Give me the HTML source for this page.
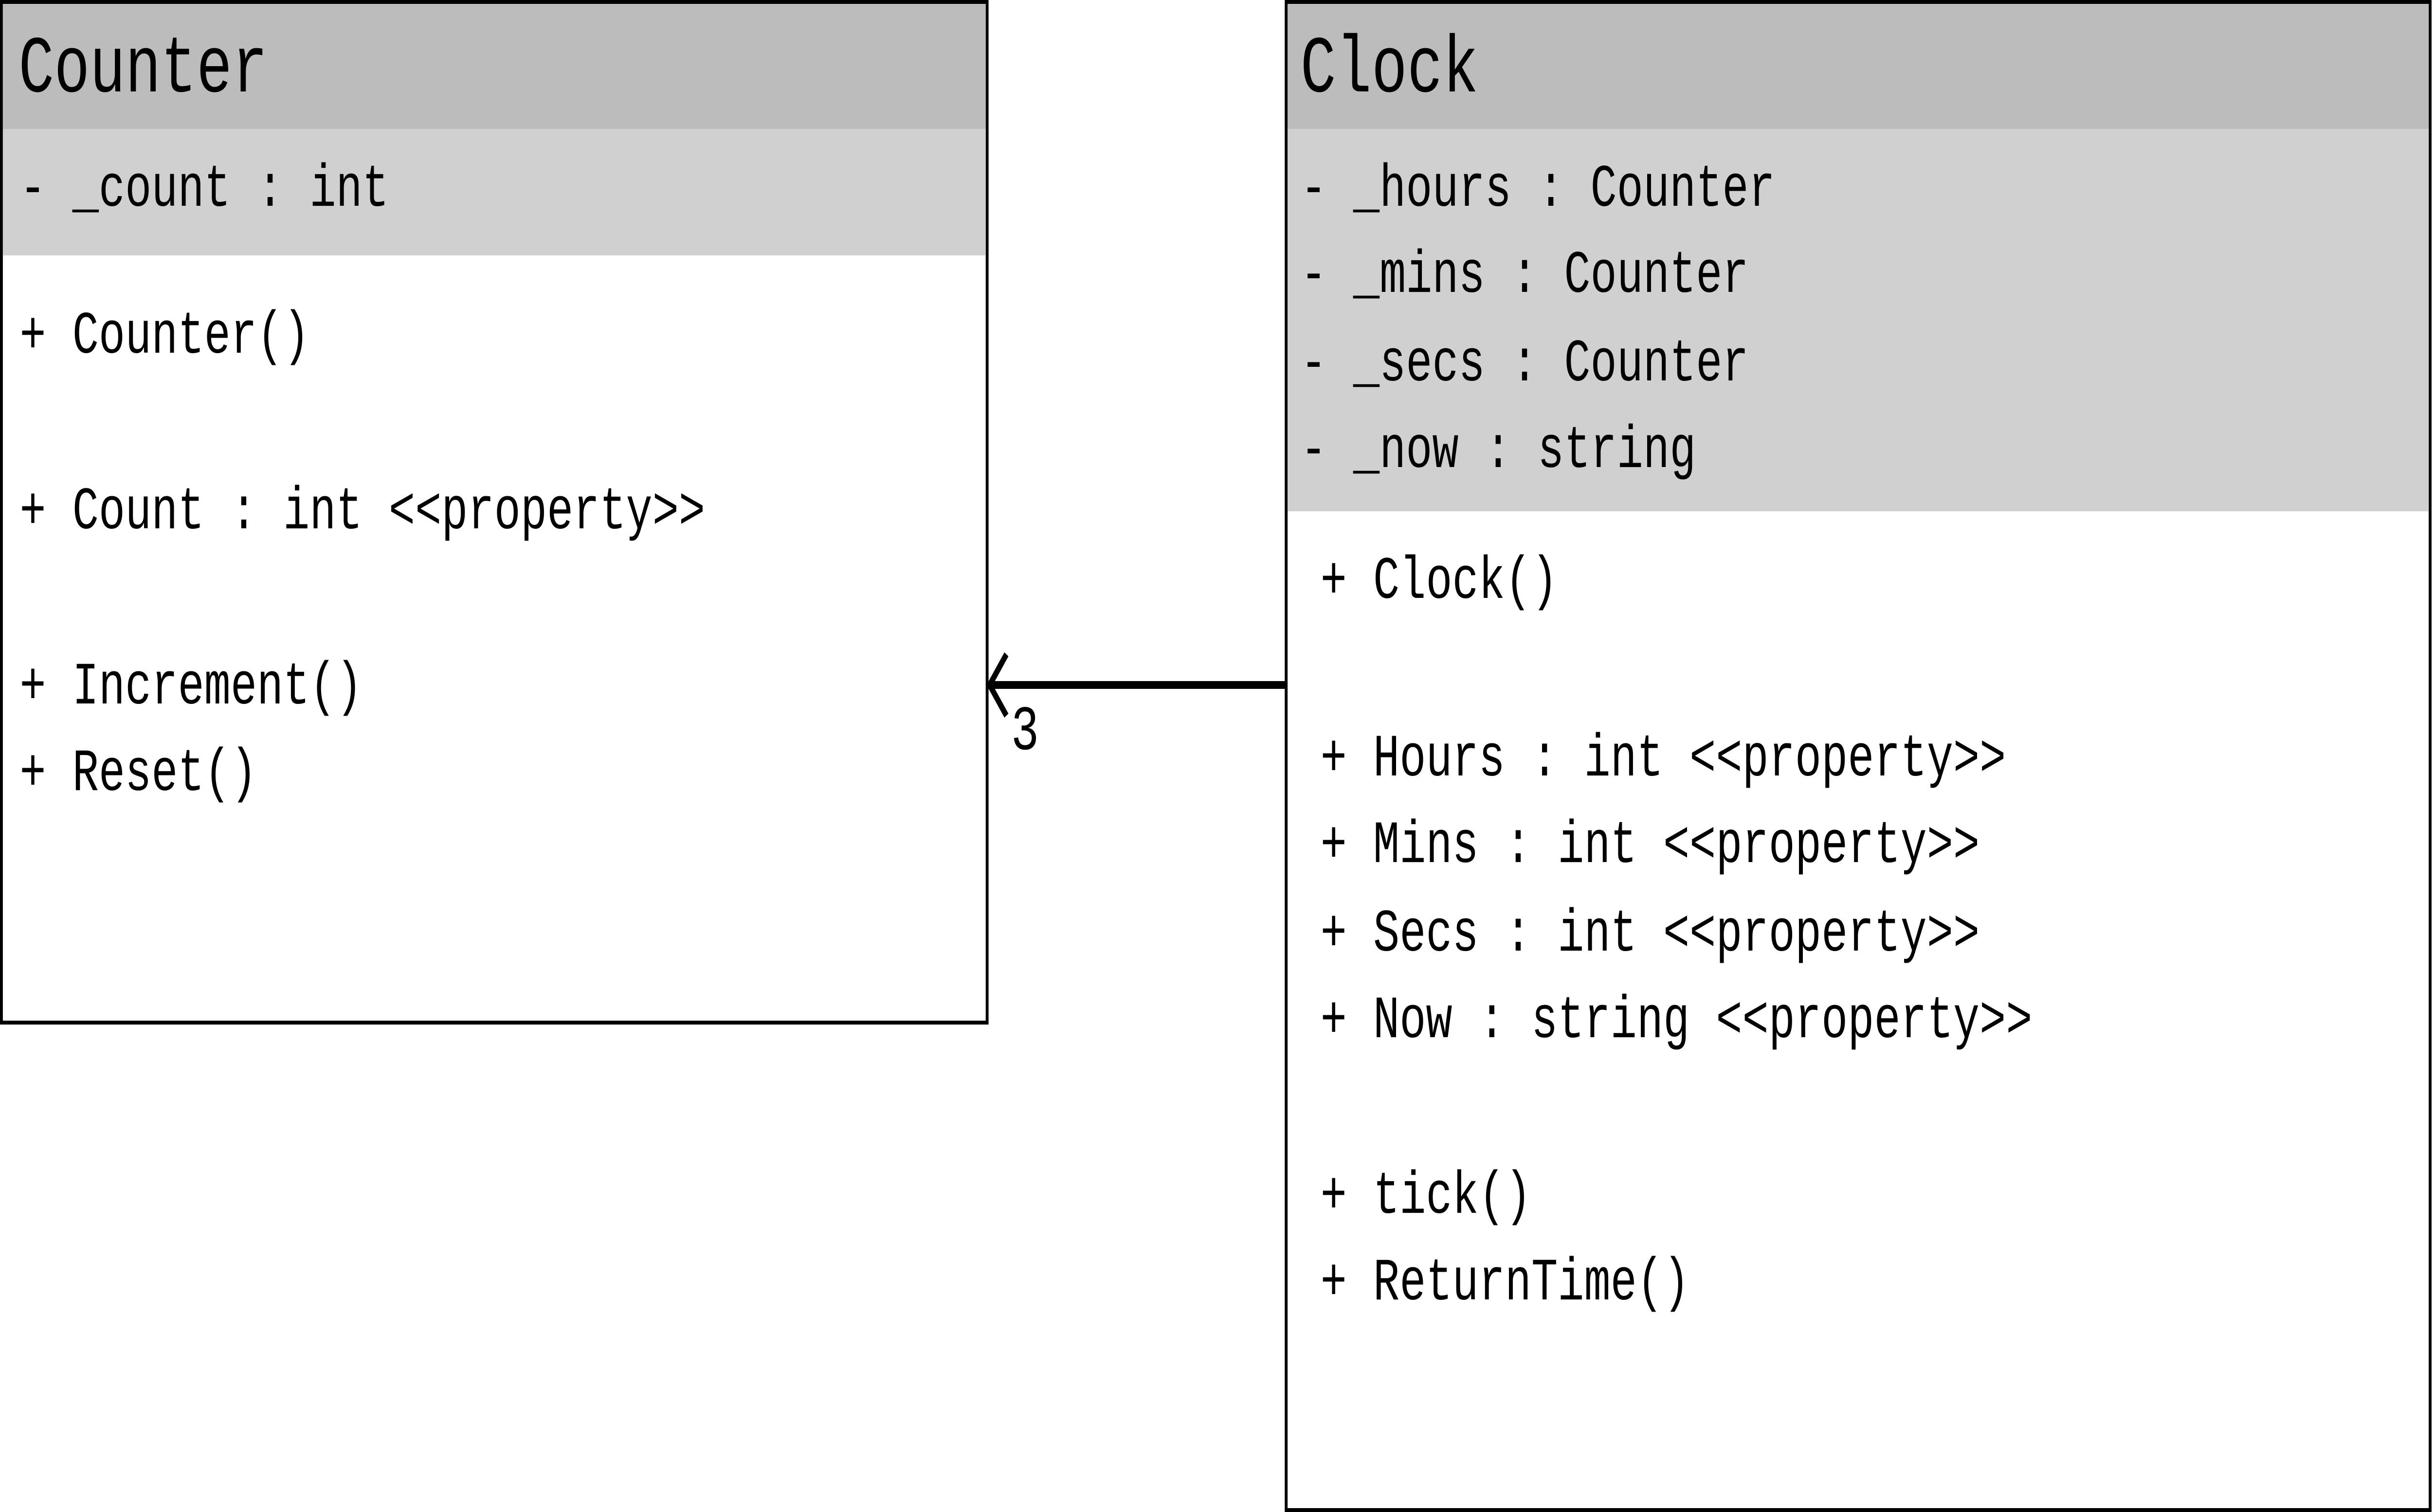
<!DOCTYPE html>
<html><head><meta charset="utf-8"><meta name="viewport" content="width=6810, initial-scale=1"><style>html,body{margin:0;padding:0;background:#fff;width:100%;height:100%;overflow:hidden;}svg{display:block;position:fixed;left:0;top:0;width:100vw;height:100vh}</style></head>
<body>
<svg viewBox="0 0 6810 3108" preserveAspectRatio="none" xmlns="http://www.w3.org/2000/svg">
<rect x="0" y="0" width="6810" height="3108" fill="#fff"/>
<rect x="4" y="4" width="2759" height="2098" fill="#fff" stroke="#000" stroke-width="8"/>
<rect x="8" y="8" width="2751" height="257" fill="#bcbcbc"/>
<rect x="8" y="265" width="2751" height="260" fill="#d0d0d0"/>
<rect x="3600" y="4" width="3202" height="3100" fill="#fff" stroke="#000" stroke-width="8"/>
<rect x="3604" y="8" width="3194" height="257" fill="#bcbcbc"/>
<rect x="3604" y="265" width="3194" height="786" fill="#d0d0d0"/>
<g font-family="Liberation Mono, monospace" fill="#000">
<text x="52" y="188" font-size="166">Counter</text>
<text x="3640" y="188" font-size="166">Clock</text>
<g font-size="123">
<text x="55" y="423">- _count : int</text>
<text x="55" y="725">+ Counter()</text>
<text x="55" y="1086">+ Count : int &lt;&lt;property&gt;&gt;</text>
<text x="55" y="1446">+ Increment()</text>
<text x="55" y="1624">+ Reset()</text>
<text x="3640" y="423">- _hours : Counter</text>
<text x="3640" y="600">- _mins : Counter</text>
<text x="3640" y="782">- _secs : Counter</text>
<text x="3640" y="960">- _now : string</text>
<text x="3696" y="1229">+ Clock()</text>
<text x="3696" y="1594">+ Hours : int &lt;&lt;property&gt;&gt;</text>
<text x="3696" y="1772">+ Mins : int &lt;&lt;property&gt;&gt;</text>
<text x="3696" y="1954">+ Secs : int &lt;&lt;property&gt;&gt;</text>
<text x="3696" y="2132">+ Now : string &lt;&lt;property&gt;&gt;</text>
<text x="3696" y="2493">+ tick()</text>
<text x="3696" y="2671">+ ReturnTime()</text>
<text x="2830" y="1540" font-size="130">3</text>
</g>
</g>
<line x1="2768" y1="1408" x2="3598" y2="1408" stroke="#000" stroke-width="16"/>
<polyline points="2817,1345 2770,1408 2817,1471" fill="none" stroke="#000" stroke-width="14"/>
</svg>
</body></html>
